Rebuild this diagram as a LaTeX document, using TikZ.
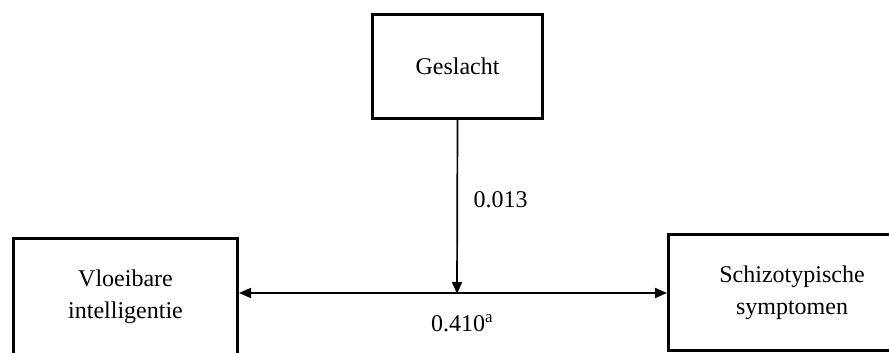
\documentclass[tikz,border=0pt]{standalone}
\usepackage{fontspec}
\setmainfont{Liberation Serif}
\usetikzlibrary{arrows.meta}
\begin{document}
\begin{tikzpicture}[x=1pt,y=-1pt,
  box/.style={draw=black,line width=3pt,rectangle,inner sep=0pt,align=center,
    font=\fontsize{24}{32}\selectfont},
  conn/.style={line width=1.7pt,{Triangle[length=12pt,width=10pt]}-{Triangle[length=12pt,width=10pt]}},
  oneway/.style={line width=1.7pt,-{Triangle[length=12pt,width=10pt]}},
  lbl/.style={font=\fontsize{24}{28}\selectfont,inner sep=0pt}]
\useasboundingbox (0,0) rectangle (889,353);
\fill[white] (0,0) rectangle (889,353);
\node[box,minimum width=170pt,minimum height=104pt] (ges) at (457.5,66.5) {Geslacht};
\node[box,minimum width=224pt,minimum height=118pt] (vi) at (125.5,297) {Vloeibare\\intelligentie};
\node[box,minimum width=247pt,minimum height=116pt] (ss) at (792,292.5) {Schizotypische\\symptomen};
\coordinate (mid) at (457,293);
\draw[conn] (vi.east |- mid) -- (ss.west |- mid);
\draw[oneway] (ges.south) -- ([yshift=-1pt]mid);
\node[lbl] (l1) at (500.5,200) {0.013};
\node[lbl] (l2) at (462,323) {0.410\textsuperscript{a}};
\end{tikzpicture}
\end{document}
